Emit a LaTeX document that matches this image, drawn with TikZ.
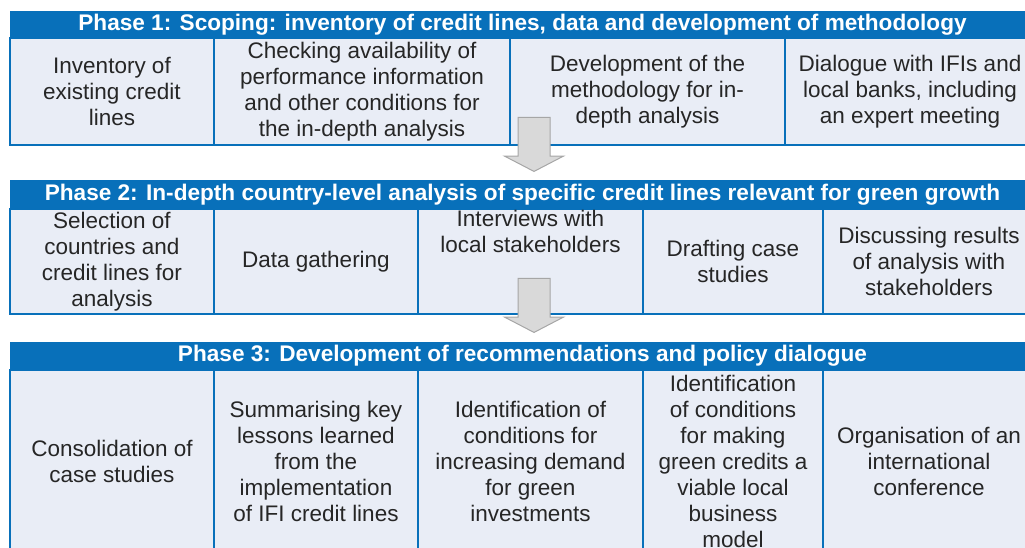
\documentclass[tikz,border=0pt]{standalone}
\usepackage{fontspec}
\setmainfont{Liberation Sans}
\usetikzlibrary{positioning,shapes.arrows,calc}
\definecolor{phaseblue}{HTML}{0870BA}
\definecolor{cellfill}{HTML}{E9EDF6}
\definecolor{celltext}{HTML}{262626}
\definecolor{arrowfill}{HTML}{D9D9D9}
\definecolor{arrowline}{HTML}{A6A6A6}
\tikzset{
    %Define style for phase headers
    phase/.style={
           rectangle,
           fill=phaseblue,
           text=white,
           font=\fontsize{22.6}{26}\selectfont\bfseries,
           minimum width=1025pt,
           minimum height=28pt,
           inner sep=0pt,
           outer sep=0pt},
    %Define style for boxes
    cell/.style={
           rectangle,
           draw=phaseblue, line width=1.5pt,
           fill=cellfill,
           text=celltext,
           font=\fontsize{22.5}{26}\selectfont,
           align=center,
           inner sep=0pt,
           outer sep=0pt},
    % Define arrow style
    down/.style={
           single arrow,
           rotate=-90,
           anchor=tip,
           fill=arrowfill,
           draw=arrowline, line width=1pt,
           minimum height=54pt,
           minimum width=58pt,
           inner sep=15.5pt,
           single arrow head extend=13.5pt,
           single arrow tip angle=125}
}

\begin{document}
\begin{tikzpicture}
    \useasboundingbox (0,0) rectangle (1025pt,-547pt);
    \clip (0,0) rectangle (1025pt,-547pt);
 %phase 1
    \node[phase, minimum height=27pt, anchor=north west] (ph1) at (10pt,-11pt)
        {Phase 1: Scoping: inventory of credit lines, data and development of methodology};
    \node[cell, minimum width=204pt, minimum height=107pt, anchor=north west] (inv) at (ph1.south west)
        {Inventory of\\existing credit\\lines};
    \node[cell, minimum width=296pt, minimum height=107pt, right=0pt of inv] (check)
        {Checking availability of\\performance information\\and other conditions for\\the in-depth analysis};
    \node[cell, minimum width=275pt, minimum height=107pt, right=0pt of check] (method)
        {Development of the\\methodology for in-\\depth analysis};
    \node[cell, minimum width=250pt, minimum height=107pt, right=0pt of method] (dialog)
        {Dialogue with IFIs and\\local banks, including\\an expert meeting};
 %phase 2
    \node[phase, minimum height=29pt, below=35pt of inv.south west, anchor=north west] (ph2)
        {Phase 2: In-depth country-level analysis of specific credit lines relevant for green growth};
    \node[cell, minimum width=204pt, minimum height=105pt, anchor=north west] (select) at (ph2.south west)
        {Selection of\\countries and\\credit lines for\\analysis};
    \node[cell, minimum width=204pt, minimum height=105pt, right=0pt of select] (gather)
        {Data gathering};
    \node[cell, minimum width=225pt, minimum height=105pt, right=0pt of gather] (interv)
        {Interviews with\\local stakeholders\\\strut\\\strut};
    \node[cell, minimum width=180pt, minimum height=105pt, right=0pt of interv] (draft)
        {Drafting case\\studies};
    \node[cell, minimum width=212pt, minimum height=105pt, right=0pt of draft] (discuss)
        {Discussing results\\of analysis with\\stakeholders};
 %phase 3
    \node[phase, minimum height=28pt, below=28pt of select.south west, anchor=north west] (ph3)
        {Phase 3: Development of recommendations and policy dialogue};
    \node[cell, minimum width=204pt, minimum height=183pt, anchor=north west] (consol) at (ph3.south west)
        {Consolidation of\\case studies};
    \node[cell, minimum width=204pt, minimum height=183pt, right=0pt of consol] (lessons)
        {Summarising key\\lessons learned\\from the\\implementation\\of IFI credit lines};
    \node[cell, minimum width=225pt, minimum height=183pt, right=0pt of lessons] (demand)
        {Identification of\\conditions for\\increasing demand\\for green\\investments};
    \node[cell, minimum width=180pt, minimum height=183pt, right=0pt of demand] (viable)
        {Identification\\of conditions\\for making\\green credits a\\viable local\\business\\model};
    \node[cell, minimum width=212pt, minimum height=183pt, right=0pt of viable] (conf)
        {Organisation of an\\international\\conference};
 %arrows
    \node[down] (arr1) at ($(check.south east)+(24pt,-27pt)$) {};
    \node[down] (arr2) at ($(arr1.tip |- interv.south)+(0,-19pt)$) {};
\end{tikzpicture}
\end{document}
